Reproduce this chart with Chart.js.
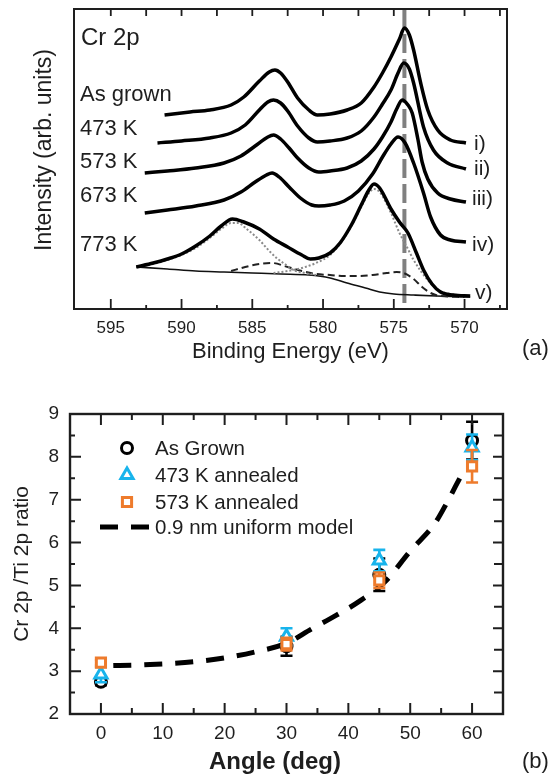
<!DOCTYPE html>
<html>
<head>
<meta charset="utf-8">
<title>Cr 2p spectra and Cr/Ti ratio</title>
<script src="https://cdn.jsdelivr.net/npm/chart.js@4.4.1/dist/chart.umd.min.js"></script>
<style>
  html, body { margin: 0; padding: 0; background: #fff; }
  #wrap { position: relative; width: 552px; height: 778px; overflow: hidden; }
  canvas { position: absolute; left: 0; }
  #xps { top: 0; }
  #ratio { top: 370px; }
</style>
</head>
<body>
<div id="wrap">
  <canvas id="xps" width="552" height="370"></canvas>
  <canvas id="ratio" width="552" height="408"></canvas>
</div>
<script>
// ---- Cr 2p spectra: [binding energy (eV), intensity (offset, arb.)] ----
const asGrown = [
  [591.2,194],[589.4,197],[588,199],[586.5,204],[585.6,212],[584.5,228],[583.8,237],[583.4,239],[583.0,236],
  [582.5,227],[581.8,211],[581.0,199],[580.4,194],[579.5,195],[578.3,199],[577.3,206],[576.4,222],
  [575.8,236],[575.2,252],[574.6,270],[574.25,281],[573.9,274],[573.6,259],[573.1,226],[572.6,199],
  [571.9,179],[571.0,169],[569.9,166]
];
const k473 = [
  [591.7,166],[590,168],[588,171],[586.5,176],[585.5,184],[584.5,199],[583.9,207],[583.5,209],[583.0,206],
  [582.5,198],[581.8,183],[581.0,171],[580.4,167],[579.5,168],[578.3,171],[577.3,178],[576.4,192],
  [575.8,205],[575.2,219],[574.7,236],[574.3,246],[573.9,240],[573.6,226],[572.9,182],[572.2,159],
  [571.2,146],[569.9,140]
];
const k573 = [
  [592.6,136],[591,138],[589,141],[587,146],[585.8,153],[584.8,163],[583.9,172],[583.5,174],
  [583.0,170],[582.4,161],[581.8,151],[581.0,141],[580.3,137],[579.5,138],[578.3,141],[577.3,148],
  [576.4,160],[575.8,172],[575.2,187],[574.8,200],[574.4,209],[574.0,204],[573.7,196],[573.3,170],
  [573.0,147],[572.6,130],[571.9,116],[571.0,110],[569.9,107]
];
const k673 = [
  [592.6,96],[591,99],[589,103],[587,109],[585.8,117],[584.8,127],[584.0,134],[583.6,136],[583.1,132],
  [582.4,122],[581.6,111],[580.8,104],[580.3,103],[579.5,104],[578.5,108],[577.5,118],[576.5,135],
  [575.8,152],[575.2,165],[574.7,172],[574.2,166],[573.6,146],[572.9,116],[572.4,92],[571.7,74],
  [571.0,69],[569.9,67]
];
const k773 = [
  [593.2,42],[592,46],[591,50],[590,55],[589,63],[588,73],[587.2,83],[586.4,90],[585.6,87],
  [584.5,80],[583.5,70],[582.5,62],[581.5,54],[580.9,50],[580.3,51],[579.5,56],[578.8,66],
  [578,84],[577.3,104],[576.8,118],[576.4,125],[576,121],[575.2,100],[574.6,87],[574.0,76],
  [573.4,56],[572.9,39],[572.3,25],[571.7,17],[570.8,14],[569.6,13]
];
// fit components of the 773 K spectrum
const fitHigh = [
  [593.2,42],[592,45],[591,49],[590,54],[589,61],[588,71],[587.2,80],[586.5,86],[586,86],
  [585.4,80],[584.5,69],[583.8,58],[583.2,50],[582.6,44],[582.1,39],[581.3,36],[580.5,34]
];
const fitLow = [
  [583.5,36],[582.5,38],[581.5,41],[580.5,46],[579.5,54],[578.8,65],[578,83],[577.3,102],
  [576.8,115],[576.4,120],[576,117],[575.2,96],[574.6,76],[574.0,60],[573.6,49],[572.6,29],
  [571.7,18],[570.5,14],[569.6,13]
];
const fitMetal = [
  [586.5,38],[585.5,42],[584.5,45],[583.6,46],[582.5,42],[581.5,38],[580.5,35],[579.5,34],
  [578.5,33],[577.5,33],[576.5,34],[575.5,36],[574.8,37],[574.3,36],[573.6,30],[573.0,22],
  [572.4,16],[571.7,13],[570,12]
];
const background = [
  [593.2,42],[591,40],[589,38],[587,37],[585,36],[583,35],[581,34],[579.5,31],[578.3,26],
  [577,21],[576,17],[575,15],[573.6,14],[572,13],[569.6,12]
];
const metalLine = [[574.25,300],[574.25,4]];
const energyTicks = [595, 590, 585, 580, 575, 570];
const spectrumNames = ['As grown', '473 K', '573 K', '673 K', '773 K'];
const spectrumTags = ['i)', 'ii)', 'iii)', 'iv)', 'v)'];

// ---- Cr 2p / Ti 2p ratio vs emission angle ----
const angles = [0, 30, 45, 60];
const ratioAsGrown = [2.75, 3.58, 5.25, 8.38];
const errAsGrown = [0.08, 0.22, 0.38, 0.44];
const ratio473 = [2.92, 3.8, 5.58, 8.22];
const err473 = [0.18, 0.2, 0.25, 0.3];
const ratio573 = [3.2, 3.63, 5.12, 7.78];
const err573 = [0.06, 0.15, 0.18, 0.38];
const modelAngles = [2, 5, 10, 15, 20, 25, 30, 34, 38, 42, 46, 50, 54, 56, 58];
const modelRatio = [3.13, 3.14, 3.17, 3.22, 3.31, 3.45, 3.65, 3.98, 4.3, 4.65, 5.1, 5.8, 6.45, 6.95, 7.5];
const angleTicks = [0, 10, 20, 30, 40, 50, 60];
const ratioTicks = [2, 3, 4, 5, 6, 7, 8, 9];
const ratioLegend = ['As Grown', '473 K annealed', '573 K annealed', '0.9 nm uniform model'];

const FONT = '"Liberation Sans", Arial, Helvetica, sans-serif';
const INK = '#1e1e1e';
const CYAN = '#18b4ec';
const ORANGE = '#ee7b2c';
Chart.defaults.font.family = FONT;
Chart.defaults.color = INK;

const toXY = pts => pts.map(([x, y]) => ({ x, y }));
const pairs = (xs, ys) => xs.map((x, i) => ({ x, y: ys[i] }));
const fixedTicks = values => scale => { scale.ticks = values.map(value => ({ value })); };

// frame around the plot area plus inward tick marks on every side
const boxTicks = {
  id: 'boxTicks',
  afterDatasetsDraw(chart, args, o) {
    const { ctx, chartArea: a } = chart;
    const xs = chart.scales.x, ys = chart.scales.y;
    ctx.save();
    ctx.strokeStyle = INK;
    ctx.lineWidth = o.tickWidth;
    ctx.beginPath();
    (o.x || []).forEach(t => {
      for (let v = t.start; v <= t.end + 1e-9; v += t.step) {
        const px = xs.getPixelForValue(v);
        if (t.bottom) { ctx.moveTo(px, a.bottom); ctx.lineTo(px, a.bottom - t.bottom); }
        if (t.top) { ctx.moveTo(px, a.top); ctx.lineTo(px, a.top + t.top); }
      }
    });
    (o.y || []).forEach(t => {
      for (let v = t.start; v <= t.end + 1e-9; v += t.step) {
        const py = ys.getPixelForValue(v);
        if (t.left) { ctx.moveTo(a.left, py); ctx.lineTo(a.left + t.left, py); }
        if (t.right) { ctx.moveTo(a.right, py); ctx.lineTo(a.right - t.right, py); }
      }
    });
    ctx.stroke();
    ctx.lineWidth = o.frameWidth;
    ctx.strokeRect(a.left, a.top, a.right - a.left, a.bottom - a.top);
    ctx.restore();
  }
};

// curve names, tags, axis title and panel letter for the spectra
const spectraText = {
  id: 'spectraText',
  afterDraw(chart) {
    const { ctx, chartArea: a } = chart;
    ctx.save();
    ctx.fillStyle = INK;
    ctx.textBaseline = 'middle';
    ctx.textAlign = 'left';
    ctx.font = '24px ' + FONT;
    ctx.fillText('Cr 2p', a.left + 7, 38);
    ctx.font = '22px ' + FONT;
    const nameY = [95, 129, 162, 196, 245];
    spectrumNames.forEach((s, i) => ctx.fillText(s, a.left + 6, nameY[i]));
    ctx.font = '21px ' + FONT;
    const tagY = [144, 169, 199, 245, 293];
    const tagX = [474, 474, 472, 472, 475];
    spectrumTags.forEach((s, i) => ctx.fillText(s, tagX[i], tagY[i]));
    ctx.font = '22px ' + FONT;
    ctx.fillText('(a)', 522, 349);
    // rotated intensity label
    ctx.translate(45, 150);
    ctx.rotate(-Math.PI / 2);
    ctx.textAlign = 'center';
    ctx.font = '23px ' + FONT;
    ctx.fillText('Intensity (arb. units)', 0, 0);
    ctx.restore();
  }
};

new Chart(document.getElementById('xps'), {
  type: 'line',
  data: {
    datasets: [
      { data: toXY(asGrown), borderColor: '#000', borderWidth: 3.5, order: 1 },
      { data: toXY(k473), borderColor: '#000', borderWidth: 3.5, order: 1 },
      { data: toXY(k573), borderColor: '#000', borderWidth: 3.5, order: 1 },
      { data: toXY(k673), borderColor: '#000', borderWidth: 3.5, order: 1 },
      { data: toXY(k773), borderColor: '#000', borderWidth: 3.5, order: 1 },
      { data: toXY(fitHigh), borderColor: '#8a8a8a', borderWidth: 2, borderDash: [2, 2], order: 2 },
      { data: toXY(fitLow), borderColor: '#8a8a8a', borderWidth: 2, borderDash: [2, 2], order: 2 },
      { data: toXY(fitMetal), borderColor: '#222', borderWidth: 2, borderDash: [7, 4], order: 2 },
      { data: toXY(background), borderColor: '#111', borderWidth: 1.6, order: 2 },
      { data: toXY(metalLine), borderColor: '#808080', borderWidth: 4, borderDash: [19, 6],
        cubicInterpolationMode: 'default', tension: 0, order: 3 }
    ]
  },
  options: {
    responsive: false,
    animation: false,
    events: [],
    layout: { padding: { left: 30, right: 45, top: 9, bottom: 0 } },
    elements: {
      point: { radius: 0 },
      line: { cubicInterpolationMode: 'monotone', fill: false }
    },
    plugins: {
      legend: { display: false },
      tooltip: { enabled: false },
      boxTicks: {
        tickWidth: 1.8, frameWidth: 2,
        x: [
          { start: 570, end: 595, step: 5, bottom: 10, top: 7 },
          { start: 567.5, end: 592.5, step: 5, bottom: 4, top: 7 }
        ]
      }
    },
    scales: {
      x: {
        type: 'linear', reverse: true, min: 567, max: 597.6,
        afterBuildTicks: fixedTicks(energyTicks),
        afterFit: s => { s.height = 61; },
        grid: { display: false, drawTicks: false },
        border: { display: false },
        ticks: { padding: 9, maxRotation: 0, autoSkip: false, font: { size: 17 }, color: INK },
        title: { display: true, text: 'Binding Energy (eV)', font: { size: 22 }, color: INK, padding: { top: 0, bottom: 5 } }
      },
      y: {
        min: 0, max: 300,
        afterFit: s => { s.width = 44; },
        grid: { display: false, drawTicks: false },
        border: { display: false },
        ticks: { display: false }
      }
    }
  },
  plugins: [boxTicks, spectraText]
});

// error bars drawn just under each dataset's own markers
const errorBars = {
  id: 'errorBars',
  beforeDatasetDraw(chart, args) {
    const ds = chart.data.datasets[args.index];
    if (!ds.errors) return;
    const { ctx } = chart;
    const xs = chart.scales.x, ys = chart.scales.y;
    ctx.save();
    ctx.strokeStyle = ds.borderColor;
    ctx.lineWidth = 2.6;
    ctx.beginPath();
    ds.data.forEach((p, j) => {
      const x = xs.getPixelForValue(p.x);
      const y1 = ys.getPixelForValue(p.y + ds.errors[j]);
      const y2 = ys.getPixelForValue(p.y - ds.errors[j]);
      ctx.moveTo(x, y1); ctx.lineTo(x, y2);
      ctx.moveTo(x - 6, y1); ctx.lineTo(x + 6, y1);
      ctx.moveTo(x - 6, y2); ctx.lineTo(x + 6, y2);
    });
    ctx.stroke();
    ctx.restore();
  }
};

// legend, x title and panel letter for the ratio plot
const ratioLegendBox = {
  id: 'ratioLegendBox',
  afterDraw(chart) {
    const { ctx } = chart;
    const sets = chart.data.datasets;
    const rowY = [78, 105, 132, 157];
    ctx.save();
    sets.slice(0, 3).forEach((ds, i) => {
      ctx.fillStyle = '#fff';
      ctx.strokeStyle = ds.borderColor;
      ctx.lineWidth = ds.borderWidth;
      Chart.helpers.drawPoint(ctx, { pointStyle: ds.pointStyle, radius: ds.pointRadius, rotation: 0, borderWidth: ds.borderWidth }, 127, rowY[i]);
    });
    const model = sets[3];
    ctx.strokeStyle = model.borderColor;
    ctx.lineWidth = model.borderWidth;
    ctx.setLineDash(model.borderDash);
    ctx.beginPath();
    ctx.moveTo(100, rowY[3]);
    ctx.lineTo(153, rowY[3]);
    ctx.stroke();
    ctx.setLineDash([]);
    ctx.fillStyle = INK;
    ctx.font = '20.5px ' + FONT;
    ctx.textBaseline = 'middle';
    ctx.textAlign = 'left';
    ratioLegend.forEach((s, i) => ctx.fillText(s, 155, rowY[i] + 1));
    ctx.font = '22px ' + FONT;
    ctx.fillText('(b)', 522, 392);
    ctx.textAlign = 'center';
    ctx.font = 'bold 24px ' + FONT;
    ctx.fillText('Angle (deg)', 275, 392);
    ctx.restore();
  }
};

new Chart(document.getElementById('ratio'), {
  type: 'scatter',
  data: {
    datasets: [
      { label: ratioLegend[0], data: pairs(angles, ratioAsGrown), errors: errAsGrown,
        borderColor: '#000', backgroundColor: '#fff', pointStyle: 'circle', pointRadius: 5.5, borderWidth: 3, order: 3 },
      { label: ratioLegend[1], data: pairs(angles, ratio473), errors: err473,
        borderColor: CYAN, backgroundColor: '#fff', pointStyle: 'triangle', pointRadius: 7, borderWidth: 3, order: 2 },
      { label: ratioLegend[2], data: pairs(angles, ratio573), errors: err573,
        borderColor: ORANGE, backgroundColor: '#fff', pointStyle: 'rect', pointRadius: 6.5, borderWidth: 3, order: 1 },
      { label: ratioLegend[3], type: 'line', data: pairs(modelAngles, modelRatio),
        borderColor: '#000', borderWidth: 5, borderDash: [18, 13], pointRadius: 0,
        cubicInterpolationMode: 'monotone', fill: false, order: 4 }
    ]
  },
  options: {
    responsive: false,
    animation: false,
    events: [],
    layout: { padding: { left: 0, right: 49, top: 44, bottom: 0 } },
    plugins: {
      legend: { display: false },
      tooltip: { enabled: false },
      boxTicks: {
        tickWidth: 2, frameWidth: 2.4,
        x: [
          { start: 0, end: 60, step: 10, bottom: 11, top: 11 },
          { start: 5, end: 55, step: 10, bottom: 6, top: 6 }
        ],
        y: [
          { start: 2, end: 9, step: 1, left: 11, right: 10 },
          { start: 2.5, end: 8.5, step: 1, left: 5, right: 9 }
        ]
      }
    },
    scales: {
      x: {
        type: 'linear', min: -5, max: 65,
        afterBuildTicks: fixedTicks(angleTicks),
        afterFit: s => { s.height = 64; },
        grid: { display: false, drawTicks: false },
        border: { display: false },
        ticks: { padding: 8, maxRotation: 0, autoSkip: false, font: { size: 19 }, color: INK }
      },
      y: {
        min: 2, max: 9,
        afterBuildTicks: fixedTicks(ratioTicks),
        afterFit: s => { s.width = 70; },
        grid: { display: false, drawTicks: false },
        border: { display: false },
        ticks: { padding: 11, autoSkip: false, font: { size: 19 }, color: INK },
        title: { display: true, text: 'Cr 2p /Ti 2p ratio', font: { size: 21 }, color: INK, padding: { top: 10, bottom: 0 } }
      }
    }
  },
  plugins: [errorBars, boxTicks, ratioLegendBox]
});
</script>
</body>
</html>
